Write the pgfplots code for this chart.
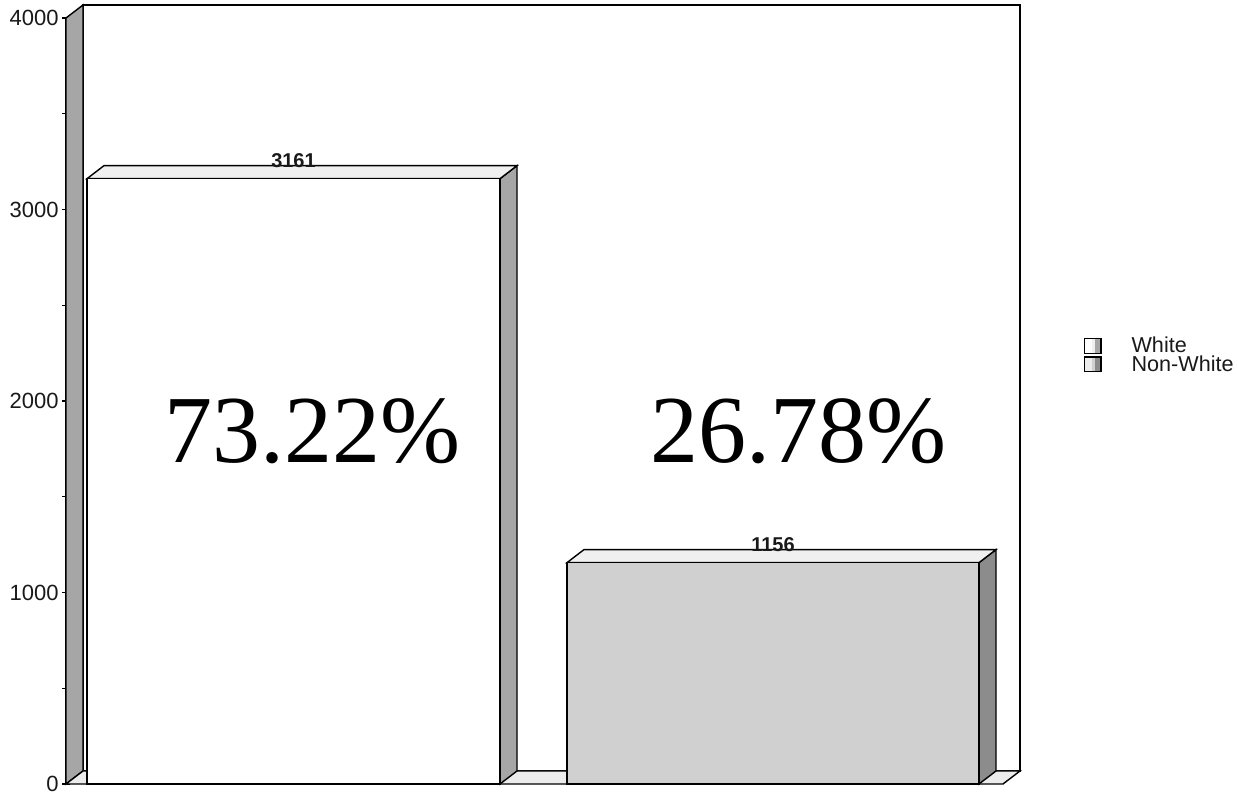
\documentclass[border=0pt]{standalone}
\usepackage{pgfplots}
\pgfplotsset{compat=1.18}
\usepackage{fontspec}
\setmainfont{Liberation Sans}
\newfontfamily\timesfont{Liberation Serif}
\definecolor{wallgray}{HTML}{A6A6A6}
\definecolor{floorgray}{HTML}{ECECEC}
\definecolor{topgray}{HTML}{F0F0F0}
\definecolor{sideA}{HTML}{A6A6A6}
\definecolor{sideB}{HTML}{8C8C8C}
\definecolor{frontB}{HTML}{D0D0D0}
\begin{document}
\begin{tikzpicture}
\begin{axis}[
  scale only axis, width=467.5pt, height=383pt,
  xmin=0, xmax=935, ymin=0, ymax=4000,
  clip=false,
  axis x line=none, axis y line=left,
  y axis line style={-, line width=0.7pt},
  ytick={0,1000,2000,3000,4000},
  minor ytick={500,1500,2500,3500},
  ytick align=center,
  major tick length=4pt, minor tick length=4pt,
  tick style={black, line width=0.7pt},
  /pgf/number format/assume math mode=true,
  /pgf/number format/1000 sep={},
  yticklabel style={font=\fontsize{11}{13}\selectfont, text=black!90, inner sep=1.5pt},
  legend style={draw=none, fill=none, inner sep=0pt, outer sep=0pt,
    at={(axis cs:1018,2240)}, anchor=west,
    nodes={inner sep=0.5pt, text height=7.6pt, text depth=0.4pt, font=\fontsize{10.8}{12}\selectfont, text=black!90},
    row sep=0.3pt, column sep=0pt},
  legend cell align=left,
]
% back wall
\addplot[draw=black, line width=0.8pt, fill=white, forget plot]
  coordinates {(17,68) (17,4068) (954,4068) (954,68)} -- cycle;
% left wall
\addplot[draw=black, line width=0.7pt, fill=wallgray, forget plot]
  coordinates {(0,0) (0,4000) (17,4068) (17,68)} -- cycle;
% floor
\addplot[draw=black, line width=0.7pt, fill=floorgray, forget plot]
  coordinates {(0,0) (937,0) (954,68) (17,68)} -- cycle;
% White bar
\addplot[draw=black, line width=0.7pt, fill=sideA, forget plot]
  coordinates {(434,0) (434,3161) (451,3229) (451,68)} -- cycle;
\addplot[draw=black, line width=0.7pt, fill=topgray, forget plot]
  coordinates {(21,3161) (434,3161) (451,3229) (38,3229)} -- cycle;
\addplot[draw=black, line width=0.7pt, fill=white, forget plot]
  coordinates {(21,0) (21,3161) (434,3161) (434,0)} -- cycle;
% Non-White bar
\addplot[draw=black, line width=0.7pt, fill=sideB, forget plot]
  coordinates {(913,0) (913,1156) (930,1224) (930,68)} -- cycle;
\addplot[draw=black, line width=0.7pt, fill=topgray, forget plot]
  coordinates {(501,1156) (913,1156) (930,1224) (518,1224)} -- cycle;
\addplot[draw=black, line width=0.7pt, fill=frontB, forget plot]
  coordinates {(501,0) (501,1156) (913,1156) (913,0)} -- cycle;
% value labels
\addplot[draw=none, mark=none, forget plot, point meta=explicit symbolic,
  nodes near coords,
  nodes near coords style={font=\fontsize{10}{12}\selectfont\bfseries, text=black!90, anchor=base, yshift=5.8pt, inner sep=0pt}]
  coordinates {(227.5,3161) [3161] (707,1156) [1156]};
% percentages
\node[font=\timesfont\fontsize{48}{56}\selectfont, anchor=base] at (axis cs:246,1681) {73.22\%};
\node[font=\timesfont\fontsize{48}{56}\selectfont, anchor=base] at (axis cs:732,1681) {26.78\%};
% legend
\addlegendimage{legend image code/.code={
  \fill[white] (0pt,-3.7pt) rectangle (4pt,3.7pt);
  \fill[topgray] (4pt,-3.7pt) rectangle (5.6pt,3.7pt);
  \fill[wallgray] (5.6pt,-3.7pt) rectangle (8.2pt,3.7pt);
  \draw[black, line width=0.6pt, fill=none] (0pt,-3.7pt) rectangle (8.2pt,3.7pt);
  \path[draw=none, fill=none] (0pt,0) -- (23pt,0);
}}
\addlegendentry{White}
\addlegendimage{legend image code/.code={
  \fill[floorgray] (0pt,-3.7pt) rectangle (4pt,3.7pt);
  \fill[frontB] (4pt,-3.7pt) rectangle (5.6pt,3.7pt);
  \fill[sideB] (5.6pt,-3.7pt) rectangle (8.2pt,3.7pt);
  \draw[black, line width=0.6pt, fill=none] (0pt,-3.7pt) rectangle (8.2pt,3.7pt);
  \path[draw=none, fill=none] (0pt,0) -- (23pt,0);
}}
\addlegendentry{Non-White}
\coordinate (bbA) at (axis cs:-66,-57.4);
\coordinate (bbB) at (axis cs:1172,4094);
\end{axis}
\pgfresetboundingbox
\path[use as bounding box] (bbA) rectangle (bbB);
\end{tikzpicture}
\end{document}
